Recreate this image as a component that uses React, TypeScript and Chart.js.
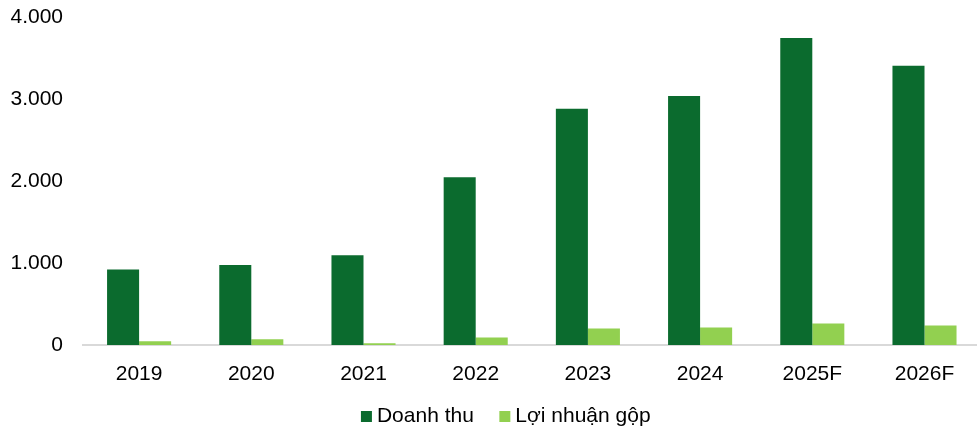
import React, { useEffect, useRef } from "react";
import { Chart, registerables } from "chart.js";

Chart.register(...registerables);

const categories = ["2019", "2020", "2021", "2022", "2023", "2024", "2025F", "2026F"];
const doanhThu = [920, 977, 1096, 2047, 2882, 3038, 3743, 3405];
const loiNhuanGop = [45, 70, 20, 92, 202, 214, 263, 239];
const yTicks = [0, 1000, 2000, 3000, 4000];

const fmt = (v: number) => String(v).replace(/\B(?=(\d{3})+(?!\d))/g, ".");

export default function App() {
  const ref = useRef<HTMLCanvasElement | null>(null);
  useEffect(() => {
    if (!ref.current) return;
    const font = { family: "'Liberation Sans', Arial, sans-serif", size: 21 };
    const chart = new Chart(ref.current, {
      type: "bar",
      data: {
        labels: categories,
        datasets: [
          {
            label: "Doanh thu",
            data: doanhThu,
            backgroundColor: "#0b6b2e",
            borderWidth: 0,
          },
          {
            label: "Lợi nhuận gộp",
            data: loiNhuanGop,
            backgroundColor: "#92d050",
            borderWidth: 0,
          },
        ],
      },
      options: {
        animation: false,
        responsive: false,
        maintainAspectRatio: false,
        layout: { padding: { top: 17, left: 9, right: 0, bottom: 0 } },
        datasets: { bar: { barPercentage: 1, categoryPercentage: 0.571 } },
        scales: {
          x: {
            grid: { display: false, drawTicks: false },
            border: { display: true, color: "#d9d9d9", width: 2 },
            ticks: { color: "#000", font, padding: -41.5, mirror: true },
            afterFit: (s: any) => {
              s.height = 30;
            },
          },
          y: {
            min: 0,
            max: 4000,
            afterBuildTicks: (s: any) => {
              s.ticks = yTicks.map((v) => ({ value: v }));
            },
            afterFit: (s: any) => {
              s.width = 74;
              s.paddingTop = 0;
              s.paddingBottom = 0;
            },
            grid: { display: false, drawTicks: false },
            border: { display: false },
            ticks: {
              color: "#000",
              font,
              padding: 20,
              callback: (v: any) => fmt(Number(v)),
            },
          },
          y2: {
            type: "linear",
            position: "right",
            display: true,
            grid: { display: false, drawTicks: false },
            border: { display: false },
            ticks: { display: false },
            afterFit: (s: any) => {
              s.width = 27.4;
              s.paddingTop = 0;
              s.paddingBottom = 0;
            },
          },
        },
        plugins: {
          legend: {
            position: "bottom",
            maxHeight: 58,
            labels: {
              color: "#000",
              font,
              usePointStyle: true,
              pointStyle: "rect",
              boxWidth: 0.01,
              boxHeight: 11,
              padding: 31,
            },
          },
          tooltip: { enabled: false },
        },
      },
    });
    return () => chart.destroy();
  }, []);
  return (
    <div style={{ position: "absolute", left: 0, top: 0, width: 977, height: 433, overflow: "hidden", background: "#fff" }}>
      <canvas ref={ref} width={1008} height={433} style={{ display: "block", width: 1008, height: 433 }} />
    </div>
  );
}
